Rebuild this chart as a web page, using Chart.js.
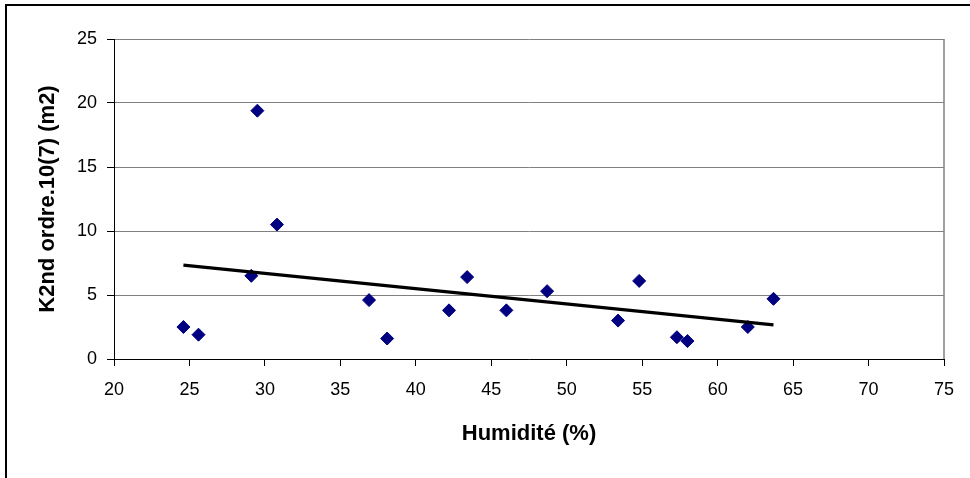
<!DOCTYPE html>
<html>
<head>
<meta charset="utf-8">
<script src="https://cdn.jsdelivr.net/npm/chart.js@4/dist/chart.umd.min.js"></script>
<style>
  html, body { margin: 0; padding: 0; background: #fff; }
  #wrap { width: 970px; height: 478px; }
</style>
</head>
<body>
<div id="wrap"><canvas id="chart" width="970" height="478"></canvas></div>
<script>
// Data
const humidity = [24.6, 25.6, 29.1, 29.5, 30.8, 36.9, 38.1, 42.2, 43.4, 46.0, 48.7, 53.4, 54.8, 57.3, 58.0, 62.0, 63.7];
const k2ndOrdre = [2.5, 1.9, 6.5, 19.4, 10.5, 4.6, 1.6, 3.8, 6.4, 3.8, 5.3, 3.0, 6.1, 1.7, 1.4, 2.5, 4.7];
// trend line endpoints (as drawn)
const trendX = [24.6, 63.7];
const trendY = [7.33, 2.66];

const xTicks = { min: 20, max: 75, step: 5 };
const yTicks = { min: 0, max: 25, step: 5 };

Chart.defaults.animation = false;
Chart.defaults.font.family = '"Liberation Sans", Arial, sans-serif';
Chart.defaults.color = '#000';

// outer frame + right edge of the plot area
const framePlugin = {
  id: 'frame',
  beforeDraw(chart) {
    const c = chart.ctx;
    c.save();
    c.fillStyle = '#fff';
    c.fillRect(0, 0, chart.width, chart.height);
    c.strokeStyle = '#000';
    c.lineWidth = 2;
    c.strokeRect(6, 5, 1000, 1000);
    c.restore();
  },
  beforeDatasetsDraw(chart) {
    const a = chart.chartArea;
    const c = chart.ctx;
    c.save();
    c.strokeStyle = '#808080';
    c.lineWidth = 1.5;
    c.beginPath();
    c.moveTo(a.right, a.top);
    c.lineTo(a.right, a.bottom);
    c.stroke();
    c.restore();
  }
};

const pts = humidity.map((x, i) => ({ x: x, y: k2ndOrdre[i] }));
const trend = trendX.map((x, i) => ({ x: x, y: trendY[i] }));

new Chart(document.getElementById('chart'), {
  type: 'scatter',
  data: {
    datasets: [{
      label: 'Tendance',
      data: trend,
      showLine: true,
      borderColor: '#000',
      borderWidth: 3.2,
      pointRadius: 0,
      order: 0
    }, {
      label: 'K2nd ordre',
      data: pts,
      pointStyle: 'rectRot',
      pointRadius: 6.5,
      backgroundColor: '#000080',
      borderColor: '#000080',
      borderWidth: 1,
      order: 1
    }]
  },
  options: {
    responsive: false,
    animation: false,
    events: [],
    layout: { padding: { top: 39, right: 26, left: 0, bottom: 0 } },
    plugins: {
      legend: { display: false },
      tooltip: { enabled: false }
    },
    scales: {
      x: {
        type: 'linear',
        min: xTicks.min,
        max: xTicks.max,
        ticks: { stepSize: xTicks.step, padding: 13, font: { size: 18 }, maxRotation: 0 },
        grid: { drawOnChartArea: false, drawTicks: true, tickLength: 7, tickColor: '#000' },
        border: { color: '#000', width: 1 },
        title: { display: true, text: 'Humidité (%)', font: { size: 22, weight: 'bold' }, padding: { top: 0, bottom: 31 } },
        afterFit(scale) { scale.height = 119; }
      },
      y: {
        type: 'linear',
        min: yTicks.min,
        max: yTicks.max,
        ticks: { stepSize: yTicks.step, padding: 10, font: { size: 18 } },
        grid: { color: '#808080', lineWidth: 1, tickLength: 7, tickColor: '#000' },
        border: { color: '#000', width: 1 },
        title: { display: true, text: 'K2nd ordre.10(7) (m2)', font: { size: 22, weight: 'bold' }, padding: { top: 35, bottom: 0 } },
        afterFit(scale) { scale.width = 114; }
      }
    }
  },
  plugins: [framePlugin]
});
</script>
</body>
</html>
